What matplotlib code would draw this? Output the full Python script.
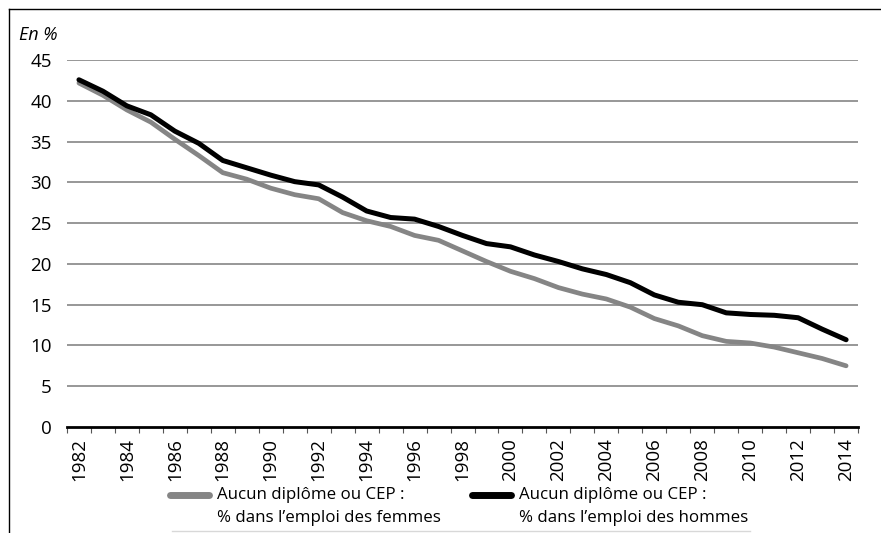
import matplotlib
matplotlib.use("Agg")
import matplotlib.pyplot as plt
from matplotlib.lines import Line2D
import numpy as np

plt.rcParams["font.family"] = ["Open Sans", "DejaVu Sans"]

years = np.arange(1982, 2015)
hommes = [42.6, 41.2, 39.4, 38.3, 36.3, 34.8, 32.7, 31.8, 30.9, 30.1, 29.7,
          28.2, 26.5, 25.7, 25.5, 24.6, 23.5, 22.5, 22.1, 21.1, 20.3, 19.4,
          18.7, 17.7, 16.2, 15.3, 15.0, 14.0, 13.8, 13.7, 13.4, 12.0, 10.7]
femmes = [42.2, 40.7, 38.9, 37.4, 35.3, 33.3, 31.2, 30.4, 29.3, 28.5, 28.0,
          26.3, 25.3, 24.6, 23.5, 22.9, 21.6, 20.3, 19.1, 18.2, 17.1, 16.3,
          15.7, 14.7, 13.3, 12.4, 11.2, 10.5, 10.3, 9.8, 9.1, 8.4, 7.5]
yticks = [0, 5, 10, 15, 20, 25, 30, 35, 40, 45]
labels = [("Aucun diplôme ou CEP :", "% dans l\u2019emploi des femmes"),
          ("Aucun diplôme ou CEP :", "% dans l\u2019emploi des hommes")]
colors = ["#858585", "#000000"]

W, H = 881, 533
fig = plt.figure(figsize=(W / 100, H / 100), dpi=100)
ax = fig.add_axes([0.076, 0.199, 0.898, 0.688])

for y in yticks[1:]:
    ax.axhline(y, color="#858585", lw=1.2, zorder=1)
ax.plot(years, femmes, color=colors[0], lw=3.4, solid_capstyle="round", zorder=3)
ax.plot(years, hommes, color=colors[1], lw=3.6, solid_capstyle="round", zorder=4)

ax.set_xlim(1981.5, 2014.5)
ax.set_ylim(0, 45)
ax.set_yticks(yticks)
ax.set_xticks(years[::2])
ax.set_xticks(np.arange(1981.5, 2015.5, 1), minor=True)
ax.tick_params(axis="x", which="major", length=0, labelrotation=90, labelsize=13.5, pad=8)
ax.tick_params(axis="x", which="minor", length=4, width=0.8, color="#555555")
ax.tick_params(axis="y", length=0, labelsize=13.5, pad=11)
for s in ["top", "right", "left"]:
    ax.spines[s].set_visible(False)
ax.spines["bottom"].set_linewidth(2)
ax.spines["bottom"].set_zorder(5)

ax.text(-0.06, 1.055, "En %", transform=ax.transAxes, fontsize=13, style="italic")

# legend drawn by hand: handle level with the first text line
fx = lambda px: px / W
fy = lambda py: 1 - py / H
for (l1, l2), c, x0 in zip(labels, colors, [170, 472]):
    fig.add_artist(Line2D([fx(x0), fx(x0 + 39)], [fy(495), fy(495)], color=c, lw=5,
                          solid_capstyle="round", transform=fig.transFigure))
    fig.text(fx(x0 + 47), fy(495), l1, fontsize=12.2, va="center")
    fig.text(fx(x0 + 47), fy(518), l2, fontsize=12.2, va="center")
fig.add_artist(Line2D([fx(172), fx(750)], [fy(531), fy(531)], color="#d8d8d8", lw=1,
                      transform=fig.transFigure))

# outer frame (top and left)
fig.add_artist(Line2D([0.0102, 1.0], [0.983, 0.983], color="black", lw=1, transform=fig.transFigure))
fig.add_artist(Line2D([0.0102, 0.0102], [0.0, 0.983], color="black", lw=1, transform=fig.transFigure))

fig.savefig("out.png", dpi=100)
